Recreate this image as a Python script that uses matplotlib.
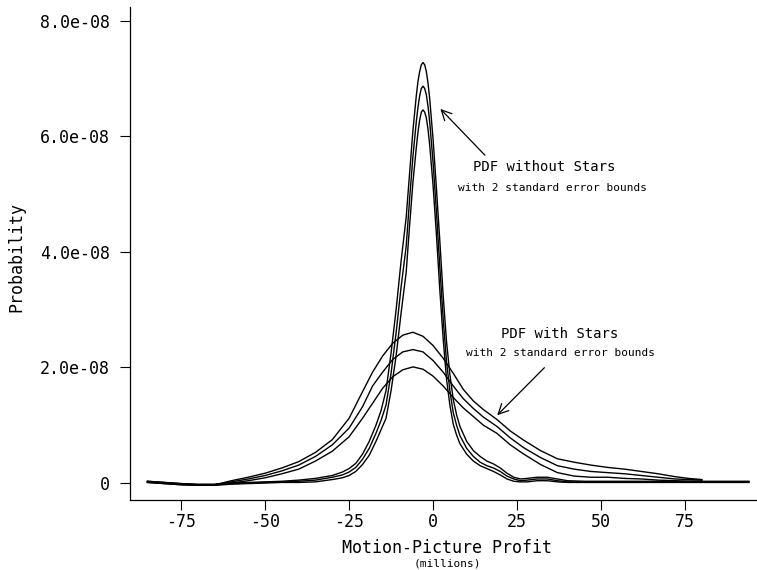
import matplotlib
matplotlib.use("Agg")
import matplotlib.pyplot as plt
import numpy as np

# ---- PDF without stars (estimate + 2 s.e. bounds), values in 1e-8 ----
x_nostar = [-85, -80, -75, -70, -65, -60, -55, -50, -45, -40, -35, -30, -27, -25,
            -23, -21, -19, -17, -15.5, -14, -12.5, -11, -9.5, -8, -7, -6, -5, -4.5,
            -4, -3.5, -3, -2.5, -2, -1.5, -1, 0, 1, 2, 3, 4, 5, 6, 7, 8, 10, 12, 14,
            16, 18, 20, 22, 24, 26, 28, 31, 34, 37, 40, 45, 50, 60, 70, 80, 94]
nostar_hi = [0.03, 0.01, -0.01, -0.02, -0.02, 0.0, 0.01, 0.02, 0.03, 0.05, 0.08, 0.13,
             0.19, 0.25, 0.34, 0.5, 0.72, 1.0, 1.25, 1.6, 2.25, 3.0, 3.85, 4.6, 5.35,
             6.1, 6.7, 6.95, 7.12, 7.24, 7.28, 7.24, 7.12, 6.92, 6.65, 5.95, 5.1, 4.2,
             3.25, 2.45, 1.88, 1.45, 1.18, 0.98, 0.72, 0.56, 0.46, 0.38, 0.33, 0.26,
             0.17, 0.1, 0.07, 0.08, 0.1, 0.1, 0.07, 0.04, 0.03, 0.03, 0.03, 0.03, 0.03,
             0.03]
nostar_mid = [0.02, 0.0, -0.02, -0.03, -0.03, -0.01, 0.0, 0.01, 0.02, 0.03, 0.05, 0.1,
              0.14, 0.19, 0.27, 0.41, 0.6, 0.86, 1.08, 1.35, 1.9, 2.6, 3.4, 4.1, 4.9,
              5.65, 6.25, 6.5, 6.7, 6.83, 6.87, 6.83, 6.72, 6.52, 6.25, 5.55, 4.7, 3.75,
              2.85, 2.1, 1.6, 1.22, 1.0, 0.82, 0.6, 0.46, 0.36, 0.3, 0.26, 0.2, 0.12,
              0.07, 0.04, 0.05, 0.07, 0.07, 0.04, 0.02, 0.02, 0.02, 0.02, 0.02, 0.02,
              0.02]
nostar_lo = [0.01, -0.01, -0.03, -0.04, -0.04, -0.02, -0.01, 0.0, 0.01, 0.01, 0.02, 0.06,
             0.09, 0.13, 0.2, 0.32, 0.48, 0.72, 0.92, 1.12, 1.6, 2.2, 2.95, 3.65, 4.45,
             5.2, 5.8, 6.07, 6.28, 6.42, 6.46, 6.42, 6.32, 6.12, 5.85, 5.15, 4.3, 3.35,
             2.5, 1.8, 1.35, 1.02, 0.83, 0.68, 0.5, 0.38, 0.3, 0.25, 0.2, 0.14, 0.07,
             0.03, 0.02, 0.02, 0.04, 0.04, 0.02, 0.01, 0.01, 0.01, 0.01, 0.01, 0.01,
             0.01]

# ---- PDF with stars (estimate + 2 s.e. bounds), values in 1e-8 ----
x_star = [-85, -80, -75, -70, -65, -60, -55, -50, -45, -40, -35, -30, -25, -21, -18,
          -15, -12, -9, -6, -3, 0, 3, 6, 9, 12, 15, 19, 23, 27, 32, 37, 42, 47, 52,
          57, 62, 67, 72, 76, 80]
star_hi = [0.03, 0.01, -0.01, -0.03, -0.03, 0.04, 0.1, 0.17, 0.26, 0.37, 0.53, 0.75,
           1.12, 1.58, 1.92, 2.2, 2.42, 2.56, 2.61, 2.54, 2.38, 2.16, 1.9, 1.62, 1.42,
           1.27, 1.1, 0.9, 0.74, 0.56, 0.42, 0.36, 0.31, 0.27, 0.24, 0.2, 0.16, 0.11,
           0.08, 0.06]
star_mid = [0.02, 0.0, -0.02, -0.03, -0.03, 0.02, 0.07, 0.13, 0.21, 0.31, 0.46, 0.66,
            0.95, 1.32, 1.68, 1.92, 2.14, 2.27, 2.31, 2.27, 2.12, 1.92, 1.68, 1.46, 1.29,
            1.14, 0.98, 0.78, 0.61, 0.44, 0.3, 0.24, 0.2, 0.18, 0.16, 0.13, 0.1, 0.07,
            0.06, 0.05]
star_lo = [0.01, -0.01, -0.03, -0.04, -0.03, 0.0, 0.04, 0.09, 0.16, 0.24, 0.38, 0.55,
           0.8, 1.12, 1.38, 1.64, 1.84, 1.96, 2.01, 1.97, 1.85, 1.68, 1.48, 1.3, 1.15,
           1.0, 0.86, 0.66, 0.5, 0.32, 0.18, 0.12, 0.1, 0.1, 0.08, 0.07, 0.05, 0.04,
           0.03, 0.03]

x_ticks = [-75, -50, -25, 0, 25, 50, 75]
y_ticks = [0, 2e-8, 4e-8, 6e-8, 8e-8]
y_ticklabels = ["0", "2.0e-08", "4.0e-08", "6.0e-08", "8.0e-08"]

plt.rcParams['font.family'] = ['DejaVu Sans Mono']

fig = plt.figure(figsize=(7.57, 5.70), dpi=100)
ax = fig.add_axes([0.1717, 0.1228, 0.8283, 0.8649])

scale = 1e-8
for ys in (nostar_hi, nostar_mid, nostar_lo):
    ax.plot(x_nostar, np.array(ys) * scale, color='black', lw=1.0)
for ys in (star_hi, star_mid, star_lo):
    ax.plot(x_star, np.array(ys) * scale, color='black', lw=1.0)

ax.set_xlim(-90.2, 96.4)
ax.set_ylim(-0.294e-8, 8.24e-8)
ax.set_xticks(x_ticks)
ax.set_xticklabels([str(t) for t in x_ticks])
ax.set_yticks(y_ticks)
ax.set_yticklabels(y_ticklabels)
ax.tick_params(direction='out', length=7.5, width=0.8, labelsize=12, pad=2)
ax.tick_params(axis='y', pad=7)
for s in ('top', 'right'):
    ax.spines[s].set_visible(False)
for s in ('left', 'bottom'):
    ax.spines[s].set_linewidth(0.9)

# axis labels
fig.text(16 / 757, 1 - 257 / 570, "Probability", rotation=90, ha='center',
         va='center', fontsize=12)
fig.text(447 / 757, 1 - 548 / 570, "Motion-Picture Profit", ha='center',
         va='center', fontsize=12)
fig.text(447 / 757, 1 - 563 / 570, "(millions)", ha='center', va='center',
         fontsize=8)

# annotations
ax.text(33.0, 5.47e-8, "PDF without Stars", ha='center', va='center', fontsize=10)
ax.text(35.6, 5.11e-8, "with 2 standard error bounds", ha='center', va='center',
        fontsize=8)
ax.annotate("", xy=(1.6, 6.51e-8), xytext=(16.0, 5.64e-8),
            arrowprops=dict(arrowstyle='->', color='black', lw=0.9,
                            mutation_scale=18))
ax.text(37.8, 2.58e-8, "PDF with Stars", ha='center', va='center', fontsize=10)
ax.text(37.8, 2.25e-8, "with 2 standard error bounds", ha='center', va='center',
        fontsize=8)
ax.annotate("", xy=(18.5, 1.14e-8), xytext=(33.7, 2.03e-8),
            arrowprops=dict(arrowstyle='->', color='black', lw=0.9,
                            mutation_scale=18))

fig.savefig("out.png", dpi=100)
